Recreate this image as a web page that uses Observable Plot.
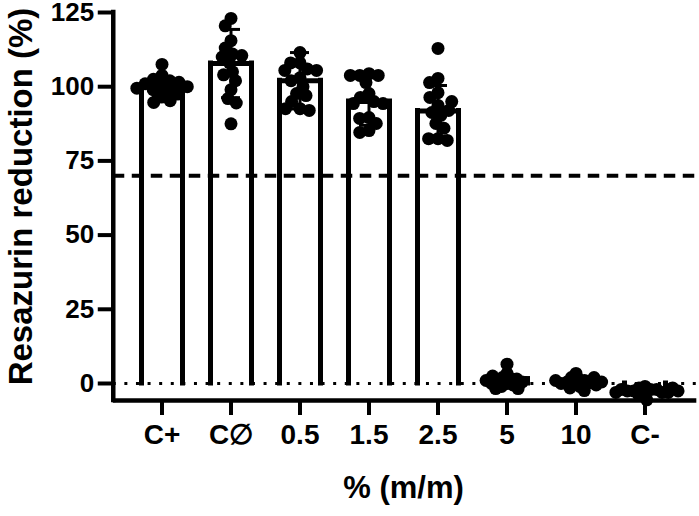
<!DOCTYPE html>
<html>
<head>
<meta charset="utf-8">
<script src="https://cdn.jsdelivr.net/npm/d3@7"></script>
<script src="https://cdn.jsdelivr.net/npm/@observablehq/plot@0.6"></script>
<style>
  body { margin: 0; background: #fff; }
</style>
</head>
<body>
<div id="chart"></div>
<script>
const categories = ["C+", "C\u2205", "0.5", "1.5", "2.5", "5", "10", "C-"];
const means = [100, 107.8, 102, 95, 91.8, 1.5, 1, -2.5];
const sds = [3, 11.5, 9.5, 8, 8.6, 1.5, 1.2, 1];
const pointsCpos = [107.5, 103.8, 102.5, 102, 101.5, 101, 100.5, 100, 99.5, 99, 98.5, 97.5, 96.5, 95.3, 94.7];
const pointsCnull = [123, 120.5, 115.5, 113, 111, 110, 110.5, 108, 105, 104, 102, 99, 96, 94.5, 87.5];
const points05 = [111.5, 108, 108, 106, 105.5, 105.5, 103, 102, 100, 97.7, 97, 95, 92.6, 92, 92.6];
const points15 = [104.4, 103.8, 103.8, 103.8, 101.4, 97.7, 96.4, 95, 94.3, 94.3, 89.6, 89.3, 87.6, 85.2, 84.6];
const points25 = [112.9, 102.8, 101.4, 98, 96.4, 93.7, 91.3, 90.3, 87.6, 86, 82.5, 82.5, 81.9, 92, 95];
const points5 = [6.5, 3.4, 2, 1.7, 1.5, 1, 0.5, 0, 0, -0.5, -1, -1.7, -1.7, 2.5, 1];
const points10 = [3.4, 2, 1.5, 1, 0.5, 0.3, 0, 0, -0.5, -1, -1.5, -2.4, 1, 2, 0.5];
const pointsCneg = [-1, -1.5, -2, -2, -2.5, -2.5, -3, -3, -3.5, -4, -2, -1.5, -5.5, -3, -2.5];
const yTicks = [0, 25, 50, 75, 100, 125];
const threshold = 70;
const baseline = 0;
const yLabel = "Resazurin reduction (%)";
const xLabel = "% (m/m)";

const pointGroups = [pointsCpos, pointsCnull, points05, points15, points25, points5, points10, pointsCneg];
const points = pointGroups.flatMap((vals, i) => vals.map(v => ({cat: categories[i], value: v, low: i >= 5})));
const summary = categories.map((c, i) => ({cat: c, mean: means[i], lo: means[i] - sds[i], hi: means[i] + sds[i]}));
const yMin = -5.73, yMax = 125;

// layout
const W = 699, H = 516, mL = 111, mR = 4, mT = 12, mB = 116, padOuter = 0.205;
const step = (W - mL - mR) / (categories.length + 2 * padOuter);
const outer = padOuter * step;
const spanAll = {insetLeft: -outer, insetRight: -(step * (categories.length - 1) + outer)};
const first = [categories[0]];
const font = "Liberation Sans, Arial, Helvetica, sans-serif";
const mid = () => 0;
const dotR = 6.5;

const chart = Plot.plot({
  width: W,
  height: H,
  marginTop: mT,
  marginBottom: mB,
  marginLeft: mL,
  marginRight: mR,
  style: {fontFamily: font, background: "white", color: "black"},
  fx: {domain: categories, paddingInner: 0, paddingOuter: padOuter, label: null},
  x: {domain: [-1, 1], axis: null},
  y: {domain: [yMin, yMax]},
  marks: [
    // reference lines spanning the whole frame (drawn from the first facet)
    Plot.ruleY(first, {fx: d => d, y: () => threshold, ...spanAll, stroke: "black", strokeWidth: 4, strokeDasharray: "11.5,7.5"}),
    Plot.ruleY(first, {fx: d => d, y: () => baseline, ...spanAll, stroke: "black", strokeWidth: 3, strokeDasharray: "3,8.6"}),
    // bar outlines (open at the bottom)
    Plot.ruleX(summary, {fx: "cat", x: mid, y1: 0, y2: "mean", dx: -20.5, stroke: "black", strokeWidth: 5, strokeLinecap: "square"}),
    Plot.ruleX(summary, {fx: "cat", x: mid, y1: 0, y2: "mean", dx: 20.5, stroke: "black", strokeWidth: 5, strokeLinecap: "square"}),
    Plot.tickY(summary, {fx: "cat", y: "mean", insetLeft: 14.2, insetRight: 14.2, stroke: "black", strokeWidth: 5}),
    // error bars
    Plot.ruleX(summary, {fx: "cat", x: mid, y1: "lo", y2: "hi", stroke: "black", strokeWidth: 3}),
    Plot.tickY(summary, {fx: "cat", y: "hi", insetLeft: 25, insetRight: 25, stroke: "black", strokeWidth: 3}),
    Plot.tickY(summary, {fx: "cat", y: "lo", insetLeft: 25, insetRight: 25, stroke: "black", strokeWidth: 3}),
    // points (scatter packed with overlap, like the original)
    Plot.dot(points.filter(d => !d.low), {...Plot.dodgeX("middle", {fx: "cat", y: "value", r: 4.2, padding: 0}), r: dotR, fill: "black"}),
    Plot.dot(points.filter(d => d.low), {...Plot.dodgeX("middle", {fx: "cat", y: "value", r: 2.6, padding: 0}), r: dotR, fill: "black"}),
    // axes
    Plot.axisFx({anchor: "bottom", tickSize: 15, tickPadding: 9, fontSize: 28, fontWeight: "bold", strokeWidth: 4, label: null}),
    Plot.axisY({ticks: yTicks, tickSize: 15, tickPadding: 4, fontSize: 26, fontWeight: "bold", strokeWidth: 4, label: null, dx: -outer}),
    Plot.ruleY(first, {fx: d => d, y: () => yMin, ...spanAll, stroke: "black", strokeWidth: 4.5}),
    Plot.ruleX(first, {fx: d => d, x: () => -1, dx: -outer, y1: () => yMin, y2: () => yMax, stroke: "black", strokeWidth: 4.5, strokeLinecap: "square"}),
    // titles
    Plot.text(first, {fx: d => d, text: () => yLabel, frameAnchor: "left", textAnchor: "middle", rotate: -90, dx: 19 - mL - outer, dy: -10, fontSize: 33, fontWeight: "bold", fill: "black"}),
    Plot.text([xLabel], {frameAnchor: "bottom", dy: 97, fontSize: 31, fontWeight: "bold", fill: "black", facet: "super"})
  ]
});
document.getElementById("chart").appendChild(chart);
</script>
</body>
</html>
